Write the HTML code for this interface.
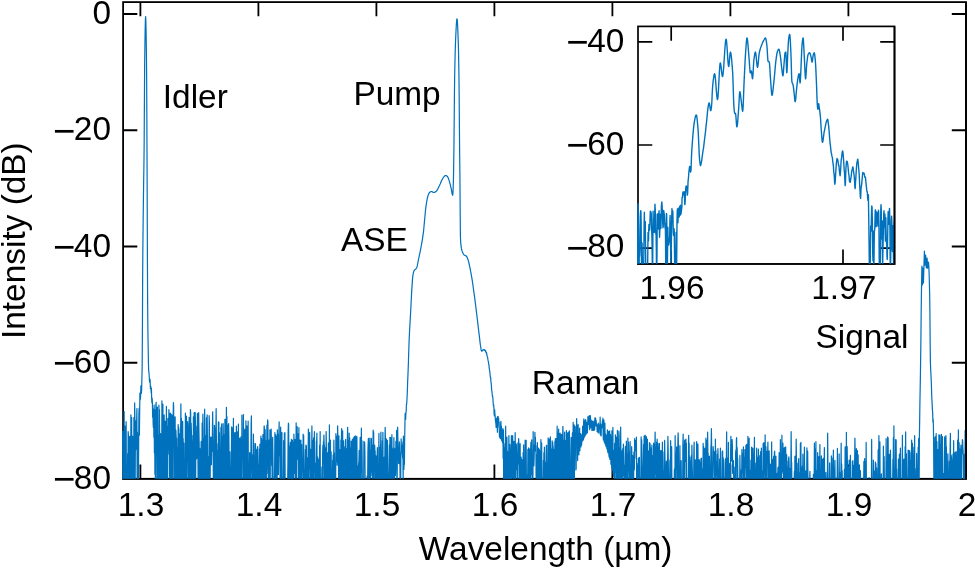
<!DOCTYPE html>
<html lang="en"><head><meta charset="utf-8"><title>Spectrum</title>
<style>html,body{margin:0;padding:0;background:#fff}svg{display:block}</style>
</head><body>
<svg width="975" height="569" viewBox="0 0 975 569">
<defs>
<clipPath id="cm"><rect x="121.80" y="2.1" width="844.20" height="476.85"/></clipPath>
<clipPath id="ci"><rect x="637.0" y="26.4" width="257.5" height="237.49999999999997"/></clipPath>
</defs>
<rect width="975" height="569" fill="#fff"/>
<g stroke="#000" stroke-width="1.8" fill="none"><path d="M140.4 478.8v-14.2M140.4 2.1v14.2"/><path d="M258.4 478.8v-14.2M258.4 2.1v14.2"/><path d="M376.4 478.8v-14.2M376.4 2.1v14.2"/><path d="M494.4 478.8v-14.2M494.4 2.1v14.2"/><path d="M612.4 478.8v-14.2M612.4 2.1v14.2"/><path d="M730.4 478.8v-14.2M730.4 2.1v14.2"/><path d="M848.4 478.8v-14.2M848.4 2.1v14.2"/><path d="M123.1 14.00h14.2M966.0 14.00h-14.2"/><path d="M123.1 130.25h14.2M966.0 130.25h-14.2"/><path d="M123.1 246.50h14.2M966.0 246.50h-14.2"/><path d="M123.1 362.75h14.2M966.0 362.75h-14.2"/><rect x="123.1" y="2.1" width="842.9" height="476.7"/></g>
<g clip-path="url(#cm)"><path d="M122.40 441.3L122.65 431.2L122.90 484.8L123.15 484.8L123.40 477.1L123.65 484.8L123.90 438.9L124.15 411.7L124.40 484.6L124.65 484.8L124.90 426.2L125.15 429.4L125.40 437.1L125.65 484.8L125.90 442.4L126.15 421.7L126.40 484.8L126.65 484.8L126.90 484.8L127.15 484.8L127.40 484.8L127.65 453.5L127.90 484.8L128.15 431.5L128.40 435.0L128.65 450.2L128.90 484.8L129.15 484.8L129.40 442.8L129.65 436.3L129.90 484.8L130.15 480.8L130.40 484.8L130.65 484.8L130.90 414.8L131.15 484.8L131.40 441.8L131.65 417.5L131.90 484.8L132.15 445.5L132.40 436.0L132.65 437.7L132.90 484.8L133.15 437.1L133.40 484.8L133.65 484.8L133.90 417.6L134.15 435.4L134.40 484.8L134.65 402.9L134.90 419.2L135.15 484.8L135.40 436.8L135.65 422.7L135.90 449.2L136.15 420.5L136.40 442.6L136.65 420.7L136.90 408.6L137.15 484.8L137.40 432.1L137.65 476.7L137.90 434.5L138.15 484.8L138.40 484.8L138.65 446.1L138.90 414.0L139.15 408.1L139.40 435.0L139.65 412.6L139.90 393.0L140.15 399.7L140.40 398.9L140.65 394.5L140.90 385.8L141.15 388.1L141.40 393.1L141.65 388.8L141.90 378.6L142.15 365.7L142.40 333.3L142.65 275.5L142.90 244.3L143.15 221.0L143.40 200.0L143.65 182.1L143.90 166.4L144.15 144.4L144.40 103.4L144.65 64.6L144.90 45.4L145.15 29.7L145.40 19.4L145.65 16.7L145.90 22.4L146.15 34.8L146.40 52.1L146.65 78.6L146.90 128.2L147.15 187.2L147.40 256.2L147.65 306.1L147.90 331.4L148.15 346.5L148.40 362.0L148.65 369.7L148.90 372.4L149.15 374.8L149.40 380.0L149.65 382.1L149.90 379.0L150.15 380.9L150.40 388.5L150.65 386.2L150.90 386.7L151.15 392.8L151.40 388.3L151.65 398.0L151.90 402.6L152.15 398.2L152.40 402.8L152.65 417.2L152.90 411.0L153.15 424.2L153.40 427.8L153.65 408.8L153.90 437.3L154.15 405.2L154.40 452.9L154.65 409.5L154.90 474.2L155.15 411.1L155.40 484.8L155.65 484.8L155.90 404.8L156.15 402.4L156.40 436.2L156.65 448.7L156.90 441.2L157.15 484.8L157.40 407.1L157.65 484.8L157.90 435.7L158.15 484.8L158.40 484.8L158.65 484.8L158.90 405.1L159.15 441.1L159.40 409.5L159.65 433.2L159.90 484.8L160.15 453.7L160.40 484.8L160.65 433.6L160.90 458.8L161.15 451.6L161.40 484.8L161.65 484.8L161.90 400.9L162.15 484.8L162.40 484.8L162.65 423.3L162.90 404.2L163.15 484.8L163.40 445.6L163.65 484.8L163.90 484.8L164.15 414.9L164.40 436.2L164.65 432.4L164.90 484.8L165.15 421.2L165.40 484.8L165.65 442.5L165.90 484.8L166.15 484.8L166.40 406.4L166.65 483.1L166.90 426.1L167.15 437.7L167.40 469.9L167.65 483.7L167.90 418.4L168.15 454.3L168.40 444.0L168.65 435.9L168.90 409.5L169.15 417.9L169.40 424.6L169.65 484.8L169.90 484.8L170.15 413.4L170.40 413.2L170.65 444.3L170.90 484.8L171.15 416.6L171.40 415.8L171.65 414.4L171.90 473.9L172.15 484.8L172.40 484.8L172.65 415.7L172.90 423.1L173.15 415.6L173.40 402.6L173.65 407.1L173.90 484.8L174.15 484.8L174.40 417.0L174.65 484.8L174.90 439.4L175.15 416.9L175.40 484.8L175.65 484.8L175.90 430.2L176.15 437.5L176.40 452.7L176.65 438.0L176.90 484.8L177.15 484.8L177.40 448.0L177.65 484.8L177.90 484.8L178.15 424.6L178.40 442.9L178.65 427.2L178.90 484.8L179.15 484.8L179.40 484.8L179.65 484.8L179.90 433.6L180.15 484.8L180.40 429.1L180.65 429.6L180.90 403.8L181.15 484.8L181.40 418.3L181.65 445.4L181.90 442.0L182.15 484.8L182.40 478.3L182.65 421.3L182.90 445.5L183.15 438.6L183.40 458.6L183.65 484.8L183.90 443.0L184.15 484.8L184.40 484.8L184.65 484.8L184.90 484.8L185.15 484.8L185.40 413.0L185.65 440.7L185.90 484.8L186.15 484.8L186.40 416.1L186.65 437.0L186.90 484.8L187.15 445.4L187.40 441.6L187.65 421.7L187.90 426.8L188.15 435.6L188.40 484.8L188.65 484.8L188.90 484.8L189.15 417.4L189.40 484.8L189.65 450.3L189.90 444.1L190.15 484.8L190.40 409.7L190.65 412.8L190.90 481.4L191.15 423.1L191.40 431.7L191.65 484.8L191.90 435.4L192.15 446.9L192.40 441.0L192.65 484.8L192.90 484.8L193.15 484.8L193.40 416.9L193.65 433.3L193.90 444.8L194.15 412.6L194.40 484.8L194.65 471.1L194.90 484.8L195.15 412.4L195.40 420.7L195.65 484.8L195.90 426.0L196.15 440.7L196.40 437.3L196.65 458.8L196.90 455.6L197.15 443.0L197.40 413.4L197.65 428.7L197.90 447.9L198.15 484.8L198.40 484.8L198.65 412.6L198.90 430.0L199.15 442.8L199.40 467.3L199.65 484.8L199.90 448.6L200.15 484.8L200.40 472.5L200.65 457.8L200.90 457.4L201.15 441.6L201.40 484.8L201.65 458.5L201.90 484.8L202.15 423.1L202.40 484.8L202.65 429.1L202.90 414.2L203.15 464.8L203.40 484.8L203.65 439.3L203.90 446.4L204.15 484.8L204.40 432.0L204.65 409.2L204.90 460.6L205.15 456.9L205.40 484.8L205.65 435.8L205.90 484.8L206.15 484.8L206.40 417.8L206.65 484.8L206.90 420.7L207.15 414.8L207.40 437.7L207.65 484.8L207.90 484.8L208.15 456.9L208.40 484.8L208.65 484.8L208.90 484.8L209.15 415.7L209.40 423.0L209.65 484.8L209.90 484.8L210.15 484.8L210.40 437.2L210.65 457.8L210.90 439.6L211.15 437.2L211.40 464.7L211.65 449.1L211.90 439.9L212.15 451.3L212.40 432.1L212.65 411.8L212.90 430.2L213.15 445.3L213.40 484.8L213.65 484.8L213.90 484.8L214.15 484.8L214.40 425.4L214.65 428.1L214.90 455.1L215.15 484.8L215.40 472.2L215.65 484.8L215.90 429.7L216.15 408.6L216.40 440.2L216.65 484.8L216.90 484.8L217.15 450.6L217.40 456.9L217.65 484.8L217.90 443.7L218.15 484.8L218.40 421.8L218.65 422.5L218.90 422.2L219.15 484.8L219.40 432.7L219.65 454.7L219.90 474.8L220.15 469.5L220.40 484.8L220.65 484.8L220.90 427.3L221.15 458.3L221.40 440.8L221.65 423.8L221.90 484.8L222.15 484.8L222.40 442.2L222.65 436.0L222.90 484.8L223.15 423.6L223.40 441.2L223.65 484.8L223.90 484.8L224.15 484.8L224.40 434.5L224.65 484.8L224.90 419.3L225.15 431.6L225.40 419.4L225.65 474.8L225.90 484.8L226.15 484.8L226.40 407.4L226.65 457.9L226.90 416.6L227.15 484.8L227.40 443.2L227.65 484.8L227.90 475.0L228.15 424.9L228.40 484.8L228.65 423.6L228.90 438.2L229.15 484.8L229.40 484.8L229.65 484.8L229.90 451.8L230.15 484.8L230.40 484.8L230.65 467.6L230.90 484.8L231.15 484.8L231.40 451.9L231.65 426.9L231.90 484.8L232.15 449.7L232.40 484.8L232.65 484.8L232.90 427.6L233.15 484.8L233.40 418.4L233.65 484.8L233.90 437.5L234.15 484.8L234.40 484.8L234.65 432.8L234.90 457.6L235.15 432.6L235.40 452.2L235.65 484.8L235.90 454.9L236.15 448.1L236.40 426.2L236.65 484.8L236.90 452.0L237.15 484.8L237.40 431.8L237.65 484.8L237.90 484.8L238.15 453.0L238.40 424.1L238.65 484.8L238.90 484.8L239.15 484.8L239.40 484.8L239.65 438.2L239.90 484.8L240.15 484.8L240.40 484.8L240.65 484.8L240.90 436.9L241.15 484.8L241.40 484.8L241.65 484.8L241.90 415.1L242.15 484.8L242.40 442.2L242.65 452.1L242.90 444.8L243.15 448.8L243.40 414.7L243.65 484.8L243.90 484.8L244.15 484.8L244.40 484.8L244.65 430.5L244.90 429.2L245.15 484.8L245.40 484.8L245.65 473.6L245.90 420.8L246.15 484.8L246.40 435.2L246.65 484.8L246.90 425.8L247.15 484.8L247.40 467.5L247.65 484.8L247.90 484.8L248.15 421.0L248.40 484.8L248.65 479.2L248.90 484.8L249.15 484.8L249.40 478.3L249.65 452.7L249.90 455.2L250.15 455.7L250.40 484.8L250.65 454.4L250.90 453.2L251.15 422.5L251.40 415.9L251.65 458.1L251.90 484.8L252.15 454.5L252.40 484.8L252.65 484.8L252.90 484.8L253.15 484.8L253.40 434.1L253.65 456.6L253.90 443.0L254.15 461.0L254.40 484.8L254.65 484.8L254.90 464.6L255.15 484.8L255.40 443.6L255.65 452.2L255.90 484.8L256.15 449.4L256.40 484.8L256.65 484.8L256.90 469.1L257.15 484.8L257.40 448.6L257.65 446.5L257.90 459.9L258.15 483.3L258.40 476.9L258.65 484.8L258.90 467.4L259.15 484.8L259.40 448.8L259.65 484.8L259.90 444.1L260.15 447.1L260.40 459.3L260.65 484.8L260.90 436.1L261.15 484.8L261.40 438.3L261.65 444.1L261.90 443.0L262.15 440.3L262.40 484.8L262.65 466.7L262.90 434.6L263.15 439.2L263.40 445.4L263.65 484.8L263.90 436.9L264.15 425.9L264.40 428.3L264.65 444.6L264.90 484.8L265.15 429.5L265.40 459.3L265.65 484.8L265.90 440.8L266.15 484.8L266.40 484.8L266.65 484.8L266.90 425.1L267.15 473.5L267.40 443.7L267.65 419.8L267.90 421.5L268.15 456.5L268.40 463.5L268.65 484.8L268.90 484.8L269.15 440.0L269.40 440.7L269.65 484.8L269.90 429.8L270.15 484.8L270.40 454.1L270.65 434.2L270.90 436.9L271.15 429.0L271.40 440.9L271.65 465.6L271.90 441.7L272.15 484.8L272.40 484.8L272.65 437.3L272.90 453.5L273.15 484.8L273.40 484.8L273.65 484.8L273.90 484.8L274.15 484.8L274.40 484.8L274.65 465.1L274.90 432.5L275.15 484.8L275.40 484.8L275.65 451.7L275.90 434.9L276.15 484.8L276.40 455.2L276.65 438.6L276.90 436.3L277.15 484.8L277.40 429.9L277.65 443.3L277.90 443.5L278.15 434.9L278.40 474.5L278.65 452.1L278.90 433.4L279.15 421.9L279.40 455.7L279.65 452.2L279.90 445.9L280.15 484.8L280.40 451.6L280.65 427.1L280.90 484.8L281.15 456.2L281.40 456.5L281.65 484.8L281.90 432.3L282.15 484.8L282.40 484.8L282.65 484.8L282.90 477.6L283.15 484.8L283.40 484.8L283.65 440.6L283.90 484.8L284.15 484.8L284.40 433.2L284.65 457.1L284.90 432.5L285.15 484.8L285.40 484.8L285.65 484.8L285.90 484.8L286.15 484.8L286.40 484.8L286.65 484.8L286.90 484.8L287.15 484.8L287.40 484.8L287.65 484.8L287.90 463.0L288.15 432.1L288.40 423.0L288.65 424.9L288.90 484.8L289.15 446.1L289.40 484.8L289.65 453.4L289.90 484.8L290.15 448.1L290.40 442.3L290.65 484.8L290.90 484.8L291.15 484.8L291.40 439.4L291.65 475.8L291.90 484.8L292.15 446.4L292.40 440.1L292.65 484.8L292.90 441.9L293.15 483.2L293.40 459.3L293.65 484.8L293.90 434.2L294.15 451.1L294.40 473.3L294.65 459.0L294.90 455.5L295.15 439.4L295.40 484.8L295.65 484.8L295.90 484.8L296.15 422.9L296.40 484.8L296.65 452.9L296.90 439.5L297.15 426.5L297.40 455.7L297.65 459.1L297.90 433.9L298.15 442.5L298.40 484.8L298.65 463.3L298.90 427.7L299.15 484.8L299.40 441.6L299.65 440.0L299.90 484.8L300.15 484.8L300.40 454.8L300.65 443.5L300.90 440.1L301.15 484.8L301.40 484.8L301.65 444.5L301.90 471.9L302.15 458.1L302.40 466.4L302.65 458.4L302.90 484.8L303.15 434.2L303.40 446.3L303.65 435.3L303.90 484.8L304.15 484.8L304.40 484.8L304.65 484.8L304.90 484.8L305.15 462.9L305.40 449.4L305.65 484.8L305.90 445.0L306.15 484.8L306.40 445.7L306.65 484.8L306.90 457.7L307.15 484.8L307.40 464.0L307.65 466.5L307.90 484.8L308.15 451.5L308.40 429.0L308.65 484.8L308.90 484.8L309.15 440.2L309.40 468.7L309.65 432.4L309.90 452.0L310.15 452.3L310.40 484.8L310.65 449.3L310.90 460.8L311.15 452.6L311.40 484.8L311.65 459.2L311.90 425.9L312.15 452.3L312.40 484.8L312.65 442.6L312.90 440.3L313.15 484.8L313.40 484.8L313.65 437.9L313.90 446.4L314.15 448.8L314.40 431.7L314.65 468.5L314.90 484.8L315.15 463.2L315.40 484.8L315.65 484.8L315.90 484.8L316.15 463.5L316.40 441.0L316.65 441.7L316.90 433.2L317.15 484.8L317.40 484.8L317.65 457.2L317.90 467.9L318.15 484.8L318.40 479.3L318.65 484.8L318.90 459.0L319.15 484.8L319.40 467.3L319.65 445.0L319.90 484.8L320.15 431.7L320.40 484.8L320.65 484.8L320.90 484.8L321.15 478.9L321.40 484.8L321.65 484.8L321.90 467.1L322.15 484.8L322.40 484.8L322.65 453.3L322.90 445.3L323.15 484.8L323.40 441.6L323.65 450.5L323.90 435.0L324.15 444.4L324.40 444.9L324.65 484.8L324.90 484.8L325.15 454.4L325.40 484.8L325.65 447.7L325.90 484.8L326.15 431.6L326.40 449.4L326.65 484.8L326.90 484.8L327.15 456.9L327.40 452.9L327.65 469.4L327.90 484.8L328.15 466.7L328.40 442.8L328.65 484.8L328.90 451.9L329.15 484.8L329.40 424.9L329.65 484.8L329.90 461.4L330.15 474.3L330.40 440.0L330.65 484.8L330.90 484.8L331.15 451.8L331.40 481.3L331.65 480.0L331.90 484.8L332.15 484.8L332.40 484.8L332.65 460.0L332.90 484.8L333.15 454.8L333.40 484.8L333.65 461.3L333.90 440.0L334.15 484.8L334.40 452.7L334.65 476.2L334.90 484.8L335.15 464.5L335.40 484.8L335.65 484.8L335.90 433.5L336.15 447.7L336.40 436.2L336.65 461.7L336.90 438.5L337.15 465.2L337.40 454.3L337.65 425.8L337.90 440.4L338.15 462.3L338.40 452.9L338.65 484.8L338.90 435.8L339.15 461.9L339.40 484.8L339.65 456.8L339.90 484.8L340.15 449.5L340.40 484.8L340.65 484.8L340.90 440.0L341.15 484.8L341.40 439.4L341.65 428.6L341.90 440.5L342.15 447.3L342.40 484.8L342.65 430.9L342.90 484.8L343.15 453.4L343.40 444.4L343.65 440.8L343.90 484.8L344.15 446.5L344.40 456.8L344.65 484.8L344.90 453.8L345.15 484.8L345.40 451.8L345.65 439.4L345.90 484.8L346.15 456.0L346.40 484.8L346.65 484.8L346.90 448.4L347.15 484.8L347.40 436.8L347.65 427.3L347.90 484.8L348.15 484.8L348.40 441.0L348.65 484.8L348.90 449.7L349.15 433.1L349.40 484.8L349.65 437.6L349.90 484.8L350.15 484.8L350.40 448.4L350.65 484.8L350.90 484.8L351.15 441.1L351.40 450.8L351.65 444.1L351.90 484.8L352.15 484.8L352.40 439.3L352.65 441.6L352.90 484.8L353.15 484.8L353.40 437.9L353.65 461.0L353.90 484.8L354.15 455.0L354.40 436.4L354.65 484.8L354.90 484.8L355.15 466.0L355.40 484.8L355.65 435.8L355.90 453.2L356.15 484.8L356.40 458.6L356.65 439.1L356.90 436.5L357.15 484.8L357.40 484.8L357.65 484.8L357.90 466.2L358.15 484.8L358.40 484.8L358.65 463.0L358.90 461.8L359.15 450.4L359.40 451.0L359.65 484.8L359.90 460.2L360.15 437.3L360.40 448.1L360.65 484.8L360.90 484.8L361.15 443.0L361.40 428.0L361.65 472.3L361.90 440.5L362.15 457.7L362.40 484.8L362.65 484.8L362.90 484.8L363.15 478.6L363.40 484.8L363.65 484.8L363.90 441.3L364.15 452.8L364.40 444.8L364.65 442.3L364.90 453.0L365.15 484.8L365.40 484.8L365.65 484.8L365.90 482.0L366.15 484.8L366.40 484.8L366.65 484.8L366.90 484.8L367.15 475.8L367.40 484.8L367.65 484.8L367.90 452.1L368.15 444.3L368.40 438.4L368.65 454.2L368.90 484.8L369.15 451.3L369.40 453.3L369.65 443.4L369.90 438.0L370.15 484.8L370.40 456.2L370.65 484.8L370.90 450.3L371.15 475.2L371.40 438.4L371.65 459.6L371.90 444.8L372.15 472.2L372.40 446.2L372.65 484.8L372.90 460.1L373.15 430.0L373.40 446.0L373.65 431.8L373.90 484.8L374.15 466.6L374.40 459.2L374.65 445.2L374.90 450.7L375.15 450.9L375.40 484.8L375.65 484.8L375.90 455.8L376.15 484.8L376.40 484.8L376.65 468.6L376.90 468.2L377.15 455.7L377.40 447.5L377.65 484.8L377.90 484.8L378.15 483.4L378.40 484.8L378.65 484.8L378.90 433.4L379.15 482.9L379.40 484.8L379.65 484.8L379.90 447.1L380.15 484.8L380.40 452.8L380.65 443.6L380.90 432.1L381.15 484.8L381.40 484.8L381.65 478.4L381.90 484.8L382.15 456.3L382.40 440.6L382.65 452.5L382.90 432.3L383.15 484.8L383.40 457.4L383.65 484.8L383.90 484.8L384.15 484.8L384.40 456.8L384.65 484.8L384.90 449.9L385.15 427.4L385.40 437.5L385.65 484.8L385.90 474.0L386.15 459.8L386.40 438.9L386.65 471.9L386.90 467.5L387.15 484.8L387.40 440.4L387.65 459.1L387.90 484.8L388.15 484.8L388.40 484.8L388.65 484.8L388.90 484.8L389.15 465.7L389.40 444.9L389.65 484.8L389.90 437.3L390.15 484.8L390.40 484.8L390.65 437.5L390.90 469.3L391.15 477.4L391.40 484.8L391.65 484.8L391.90 434.7L392.15 484.8L392.40 484.8L392.65 457.0L392.90 456.1L393.15 449.3L393.40 447.8L393.65 484.8L393.90 437.7L394.15 484.8L394.40 484.8L394.65 468.3L394.90 449.9L395.15 448.5L395.40 475.6L395.65 466.1L395.90 441.3L396.15 446.7L396.40 467.3L396.65 430.3L396.90 484.8L397.15 484.8L397.40 447.4L397.65 427.2L397.90 441.4L398.15 448.6L398.40 455.8L398.65 463.4L398.90 455.9L399.15 463.6L399.40 441.9L399.65 459.9L399.90 460.9L400.15 484.8L400.40 452.9L400.65 484.8L400.90 455.4L401.15 438.8L401.40 446.6L401.65 444.8L401.90 446.8L402.15 451.2L402.40 454.4L402.65 457.9L402.90 441.8L403.15 484.5L403.40 436.0L403.65 451.6L403.90 469.5L404.15 461.7L404.40 464.2L404.65 439.7L404.90 425.1L405.15 413.4L405.40 419.3L405.65 419.3L405.90 412.8L406.15 412.1L406.40 404.4L406.65 404.5L406.90 400.3L407.15 395.5L407.40 389.7L407.65 381.3L407.90 376.4L408.15 369.5L408.40 362.9L408.65 354.1L408.90 346.8L409.15 340.1L409.40 334.4L409.65 329.5L409.90 325.2L410.15 320.9L410.40 316.3L410.65 311.7L410.90 306.7L411.15 301.7L411.40 296.8L411.65 292.4L411.90 288.4L412.15 284.4L412.40 280.6L412.65 277.5L412.90 275.4L413.15 274.0L413.40 272.9L413.65 271.9L413.90 271.1L414.15 270.6L414.40 270.2L414.65 269.9L414.90 269.6L415.15 269.4L415.40 269.2L415.65 269.1L415.90 268.9L416.15 268.6L416.40 268.3L416.65 267.9L416.90 267.2L417.15 266.3L417.40 265.2L417.65 263.9L417.90 262.5L418.15 261.2L418.40 259.9L418.65 258.7L418.90 257.5L419.15 256.4L419.40 255.2L419.65 254.0L419.90 252.8L420.15 251.6L420.40 250.4L420.65 249.1L420.90 247.8L421.15 246.5L421.40 245.2L421.65 243.8L421.90 242.3L422.15 240.8L422.40 239.3L422.65 237.7L422.90 236.1L423.15 234.2L423.40 232.3L423.65 230.1L423.90 227.5L424.15 224.8L424.40 222.1L424.65 219.5L424.90 216.8L425.15 214.0L425.40 211.4L425.65 209.0L425.90 207.1L426.15 205.2L426.40 203.5L426.65 201.9L426.90 200.4L427.15 199.1L427.40 198.0L427.65 197.0L427.90 196.1L428.15 195.3L428.40 194.6L428.65 194.0L428.90 193.4L429.15 192.9L429.40 192.6L429.65 192.4L429.90 192.2L430.15 192.0L430.40 191.8L430.65 191.7L430.90 191.6L431.15 191.5L431.40 191.5L431.65 191.5L431.90 191.6L432.15 191.7L432.40 191.9L432.65 192.0L432.90 192.2L433.15 192.3L433.40 192.4L433.65 192.5L433.90 192.5L434.15 192.5L434.40 192.4L434.65 192.3L434.90 192.2L435.15 192.0L435.40 191.9L435.65 191.7L435.90 191.5L436.15 191.3L436.40 191.1L436.65 190.9L436.90 190.5L437.15 190.2L437.40 189.7L437.65 189.3L437.90 188.8L438.15 188.3L438.40 187.8L438.65 187.2L438.90 186.7L439.15 186.2L439.40 185.7L439.65 185.2L439.90 184.6L440.15 184.1L440.40 183.5L440.65 182.8L440.90 182.2L441.15 181.6L441.40 181.0L441.65 180.5L441.90 180.0L442.15 179.5L442.40 179.1L442.65 178.7L442.90 178.3L443.15 177.9L443.40 177.5L443.65 177.1L443.90 176.8L444.15 176.4L444.40 176.2L444.65 175.9L444.90 175.7L445.15 175.6L445.40 175.5L445.65 175.5L445.90 175.6L446.15 175.6L446.40 175.8L446.65 175.9L446.90 176.1L447.15 176.3L447.40 176.5L447.65 176.8L447.90 177.2L448.15 177.8L448.40 178.4L448.65 179.2L448.90 179.9L449.15 180.7L449.40 181.4L449.65 182.3L449.90 183.2L450.15 184.2L450.40 185.2L450.65 186.3L450.90 187.4L451.15 188.4L451.40 189.7L451.65 191.1L451.90 192.6L452.15 193.9L452.40 194.8L452.65 195.3L452.90 193.7L453.15 188.3L453.40 180.8L453.65 168.1L453.90 150.0L454.15 125.2L454.40 96.8L454.65 77.1L454.90 64.2L455.15 53.6L455.40 45.2L455.65 38.9L455.90 33.3L456.15 28.1L456.40 23.7L456.65 20.5L456.90 18.8L457.15 19.1L457.40 21.7L457.65 26.3L457.90 32.1L458.15 38.6L458.40 46.6L458.65 58.2L458.90 73.1L459.15 94.3L459.40 126.5L459.65 154.5L459.90 175.0L460.15 208.6L460.40 236.0L460.65 241.7L460.90 244.6L461.15 246.6L461.40 248.2L461.65 249.5L461.90 250.4L462.15 251.2L462.40 251.9L462.65 252.6L462.90 253.1L463.15 253.6L463.40 254.0L463.65 254.4L463.90 254.7L464.15 254.9L464.40 255.1L464.65 255.2L464.90 255.4L465.15 255.5L465.40 255.6L465.65 255.7L465.90 255.8L466.15 256.0L466.40 256.2L466.65 256.5L466.90 256.9L467.15 257.4L467.40 258.0L467.65 258.6L467.90 259.3L468.15 260.1L468.40 260.9L468.65 261.8L468.90 262.9L469.15 264.0L469.40 265.2L469.65 266.4L469.90 267.7L470.15 269.0L470.40 270.1L470.65 271.5L470.90 272.7L471.15 274.1L471.40 275.5L471.65 276.9L471.90 278.3L472.15 279.9L472.40 281.5L472.65 283.2L472.90 285.0L473.15 286.8L473.40 288.5L473.65 290.4L473.90 292.2L474.15 294.0L474.40 295.8L474.65 297.7L474.90 299.7L475.15 301.6L475.40 303.6L475.65 305.5L475.90 307.6L476.15 309.6L476.40 311.6L476.65 313.7L476.90 315.7L477.15 317.9L477.40 320.0L477.65 321.9L477.90 324.1L478.15 326.2L478.40 328.4L478.65 330.5L478.90 332.6L479.15 334.4L479.40 336.7L479.65 338.5L479.90 341.1L480.15 343.3L480.40 345.2L480.65 346.5L480.90 348.1L481.15 349.9L481.40 350.8L481.65 351.2L481.90 351.1L482.15 350.9L482.40 350.3L482.65 350.4L482.90 349.8L483.15 350.1L483.40 349.9L483.65 349.7L483.90 349.8L484.15 349.4L484.40 350.2L484.65 349.8L484.90 350.7L485.15 350.2L485.40 351.4L485.65 350.9L485.90 352.2L486.15 352.8L486.40 352.2L486.65 353.3L486.90 355.0L487.15 356.1L487.40 357.0L487.65 357.5L487.90 359.4L488.15 360.9L488.40 361.5L488.65 364.1L488.90 364.4L489.15 367.6L489.40 369.5L489.65 370.9L489.90 372.2L490.15 375.5L490.40 377.6L490.65 377.4L490.90 381.7L491.15 382.7L491.40 385.8L491.65 390.2L491.90 391.2L492.15 393.8L492.40 396.1L492.65 396.1L492.90 398.2L493.15 402.8L493.40 405.7L493.65 404.8L493.90 407.6L494.15 413.8L494.40 415.8L494.65 409.8L494.90 414.1L495.15 416.1L495.40 420.3L495.65 421.9L495.90 423.6L496.15 427.5L496.40 422.7L496.65 418.2L496.90 424.2L497.15 423.7L497.40 432.2L497.65 416.4L497.90 421.6L498.15 416.5L498.40 420.9L498.65 418.2L498.90 427.0L499.15 422.2L499.40 436.6L499.65 434.9L499.90 437.8L500.15 438.3L500.40 438.8L500.65 423.7L500.90 421.3L501.15 432.8L501.40 426.1L501.65 440.6L501.90 434.0L502.15 434.0L502.40 442.7L502.65 429.9L502.90 428.7L503.15 458.2L503.40 429.8L503.65 484.8L503.90 443.6L504.15 460.9L504.40 455.4L504.65 484.8L504.90 447.6L505.15 484.8L505.40 443.5L505.65 426.2L505.90 484.8L506.15 484.8L506.40 448.2L506.65 455.9L506.90 437.2L507.15 484.8L507.40 451.2L507.65 484.8L507.90 484.8L508.15 484.8L508.40 452.0L508.65 463.0L508.90 435.6L509.15 478.4L509.40 484.8L509.65 484.8L509.90 444.4L510.15 455.8L510.40 484.8L510.65 454.0L510.90 484.8L511.15 463.1L511.40 435.7L511.65 484.8L511.90 484.8L512.15 436.6L512.40 452.0L512.65 435.7L512.90 448.9L513.15 477.4L513.40 455.1L513.65 484.8L513.90 441.4L514.15 453.9L514.40 453.1L514.65 456.0L514.90 484.8L515.15 432.7L515.40 453.8L515.65 484.8L515.90 463.9L516.15 443.8L516.40 444.8L516.65 456.5L516.90 469.4L517.15 453.6L517.40 484.8L517.65 484.8L517.90 442.9L518.15 464.0L518.40 448.2L518.65 438.7L518.90 444.7L519.15 453.6L519.40 484.8L519.65 444.5L519.90 461.0L520.15 443.7L520.40 484.8L520.65 476.3L520.90 484.8L521.15 457.0L521.40 484.8L521.65 484.8L521.90 459.5L522.15 463.0L522.40 484.8L522.65 461.0L522.90 484.8L523.15 452.3L523.40 484.8L523.65 444.9L523.90 484.8L524.15 484.8L524.40 484.8L524.65 470.3L524.90 464.9L525.15 440.1L525.40 484.8L525.65 459.8L525.90 450.5L526.15 440.4L526.40 484.8L526.65 475.2L526.90 483.6L527.15 484.8L527.40 476.3L527.65 484.8L527.90 449.3L528.15 477.7L528.40 484.8L528.65 447.9L528.90 471.5L529.15 451.9L529.40 484.8L529.65 449.0L529.90 468.5L530.15 455.2L530.40 484.8L530.65 449.8L530.90 442.4L531.15 474.7L531.40 458.0L531.65 439.8L531.90 464.5L532.15 484.8L532.40 484.3L532.65 484.8L532.90 484.8L533.15 431.5L533.40 462.1L533.65 465.1L533.90 466.0L534.15 457.1L534.40 445.0L534.65 451.1L534.90 432.3L535.15 450.8L535.40 437.1L535.65 449.8L535.90 445.6L536.15 484.8L536.40 484.8L536.65 455.3L536.90 484.8L537.15 484.8L537.40 442.5L537.65 484.8L537.90 462.9L538.15 458.8L538.40 484.8L538.65 448.1L538.90 484.8L539.15 484.8L539.40 449.7L539.65 451.8L539.90 484.8L540.15 466.3L540.40 474.7L540.65 484.8L540.90 439.5L541.15 484.8L541.40 484.8L541.65 442.9L541.90 484.8L542.15 484.8L542.40 484.8L542.65 484.8L542.90 484.8L543.15 484.8L543.40 460.4L543.65 484.8L543.90 452.6L544.15 484.8L544.40 447.0L544.65 484.8L544.90 468.9L545.15 462.3L545.40 484.8L545.65 484.8L545.90 481.9L546.15 454.0L546.40 445.3L546.65 445.5L546.90 480.9L547.15 484.8L547.40 477.3L547.65 484.8L547.90 484.8L548.15 437.8L548.40 462.7L548.65 484.8L548.90 447.5L549.15 439.3L549.40 484.8L549.65 438.9L549.90 450.1L550.15 484.8L550.40 436.8L550.65 484.8L550.90 484.8L551.15 449.1L551.40 484.8L551.65 475.6L551.90 456.9L552.15 440.8L552.40 484.8L552.65 442.1L552.90 445.8L553.15 446.7L553.40 484.8L553.65 484.8L553.90 484.8L554.15 468.5L554.40 449.0L554.65 484.8L554.90 441.0L555.15 484.8L555.40 438.5L555.65 484.8L555.90 484.8L556.15 484.8L556.40 438.7L556.65 484.8L556.90 462.7L557.15 426.1L557.40 469.4L557.65 465.0L557.90 484.8L558.15 477.5L558.40 433.8L558.65 429.1L558.90 484.8L559.15 484.8L559.40 433.5L559.65 484.8L559.90 436.7L560.15 433.2L560.40 469.3L560.65 450.4L560.90 484.8L561.15 484.8L561.40 434.3L561.65 461.8L561.90 484.8L562.15 484.8L562.40 460.5L562.65 435.6L562.90 426.3L563.15 439.0L563.40 484.8L563.65 440.2L563.90 484.8L564.15 455.5L564.40 484.8L564.65 432.2L564.90 484.8L565.15 484.8L565.40 452.2L565.65 484.8L565.90 440.3L566.15 484.8L566.40 430.5L566.65 484.8L566.90 484.8L567.15 438.6L567.40 432.8L567.65 484.8L567.90 484.8L568.15 484.8L568.40 467.9L568.65 432.1L568.90 472.5L569.15 484.8L569.40 430.9L569.65 484.8L569.90 484.8L570.15 484.8L570.40 484.8L570.65 474.1L570.90 448.9L571.15 437.3L571.40 484.8L571.65 484.8L571.90 472.2L572.15 466.3L572.40 432.8L572.65 442.1L572.90 484.8L573.15 422.4L573.40 484.8L573.65 436.6L573.90 436.9L574.15 424.9L574.40 479.2L574.65 427.8L574.90 450.4L575.15 426.4L575.40 449.9L575.65 442.4L575.90 470.0L576.15 468.5L576.40 435.5L576.65 418.6L576.90 432.4L577.15 447.1L577.40 428.7L577.65 460.6L577.90 425.3L578.15 424.6L578.40 440.8L578.65 441.0L578.90 454.8L579.15 433.2L579.40 444.0L579.65 428.0L579.90 450.7L580.15 435.9L580.40 435.1L580.65 433.5L580.90 447.0L581.15 442.5L581.40 445.3L581.65 444.5L581.90 434.7L582.15 441.4L582.40 438.7L582.65 426.1L582.90 435.6L583.15 440.2L583.40 439.6L583.65 421.5L583.90 418.9L584.15 437.8L584.40 433.8L584.65 420.9L584.90 424.2L585.15 435.9L585.40 425.4L585.65 419.5L585.90 420.9L586.15 434.2L586.40 422.2L586.65 422.6L586.90 423.2L587.15 432.9L587.40 432.6L587.65 426.5L587.90 416.7L588.15 424.2L588.40 419.5L588.65 424.0L588.90 424.6L589.15 415.7L589.40 424.8L589.65 429.7L589.90 426.6L590.15 424.7L590.40 415.5L590.65 422.5L590.90 419.7L591.15 427.9L591.40 422.0L591.65 420.8L591.90 430.5L592.15 426.5L592.40 421.1L592.65 422.2L592.90 428.0L593.15 430.5L593.40 424.5L593.65 430.5L593.90 421.0L594.15 421.2L594.40 425.3L594.65 429.8L594.90 417.9L595.15 422.4L595.40 419.5L595.65 418.1L595.90 426.0L596.15 420.4L596.40 424.8L596.65 424.1L596.90 424.3L597.15 431.8L597.40 431.9L597.65 432.1L597.90 425.0L598.15 425.7L598.40 423.0L598.65 429.3L598.90 433.2L599.15 425.2L599.40 428.1L599.65 425.9L599.90 428.7L600.15 417.2L600.40 435.0L600.65 423.9L600.90 426.6L601.15 436.0L601.40 425.1L601.65 427.4L601.90 425.6L602.15 425.8L602.40 420.7L602.65 428.1L602.90 418.2L603.15 434.4L603.40 440.0L603.65 436.1L603.90 419.9L604.15 441.7L604.40 430.3L604.65 442.8L604.90 423.2L605.15 444.1L605.40 433.7L605.65 444.1L605.90 446.0L606.15 446.7L606.40 435.2L606.65 438.7L606.90 448.9L607.15 440.3L607.40 429.8L607.65 451.3L607.90 452.1L608.15 453.0L608.40 439.1L608.65 431.4L608.90 455.6L609.15 456.5L609.40 457.5L609.65 430.8L609.90 459.4L610.15 439.2L610.40 434.3L610.65 440.9L610.90 463.5L611.15 464.6L611.40 436.3L611.65 466.8L611.90 430.8L612.15 469.1L612.40 470.2L612.65 452.4L612.90 427.4L613.15 473.9L613.40 453.2L613.65 476.4L613.90 452.2L614.15 450.2L614.40 480.4L614.65 443.3L614.90 472.2L615.15 470.4L615.40 434.8L615.65 457.0L615.90 484.8L616.15 484.8L616.40 437.1L616.65 452.2L616.90 446.6L617.15 484.8L617.40 430.4L617.65 440.2L617.90 474.8L618.15 484.8L618.40 484.8L618.65 484.8L618.90 431.2L619.15 435.0L619.40 484.8L619.65 452.3L619.90 484.8L620.15 447.8L620.40 484.8L620.65 427.0L620.90 450.7L621.15 484.8L621.40 466.7L621.65 451.2L621.90 484.8L622.15 473.9L622.40 484.8L622.65 448.9L622.90 457.0L623.15 476.0L623.40 444.2L623.65 465.7L623.90 464.9L624.15 484.8L624.40 473.7L624.65 484.8L624.90 484.8L625.15 457.2L625.40 446.4L625.65 463.6L625.90 452.8L626.15 484.8L626.40 441.1L626.65 484.8L626.90 453.6L627.15 484.8L627.40 484.8L627.65 484.8L627.90 438.1L628.15 452.9L628.40 442.1L628.65 470.8L628.90 461.0L629.15 484.8L629.40 451.3L629.65 484.8L629.90 445.2L630.15 441.5L630.40 484.8L630.65 484.8L630.90 484.8L631.15 472.7L631.40 484.8L631.65 446.7L631.90 455.2L632.15 484.8L632.40 484.8L632.65 455.6L632.90 484.8L633.15 456.2L633.40 484.8L633.65 476.7L633.90 452.0L634.15 470.2L634.40 467.4L634.65 438.6L634.90 446.2L635.15 446.8L635.40 450.1L635.65 450.7L635.90 440.4L636.15 458.5L636.40 437.1L636.65 484.8L636.90 463.1L637.15 484.8L637.40 465.2L637.65 484.8L637.90 484.8L638.15 474.2L638.40 458.2L638.65 484.8L638.90 484.8L639.15 484.8L639.40 457.3L639.65 484.8L639.90 484.8L640.15 484.8L640.40 484.8L640.65 484.8L640.90 484.8L641.15 436.9L641.40 484.8L641.65 439.5L641.90 449.5L642.15 466.3L642.40 484.8L642.65 484.8L642.90 484.8L643.15 484.8L643.40 464.9L643.65 444.3L643.90 453.2L644.15 435.9L644.40 472.5L644.65 484.8L644.90 484.8L645.15 435.2L645.40 478.6L645.65 484.8L645.90 484.8L646.15 461.7L646.40 436.5L646.65 466.4L646.90 484.8L647.15 484.8L647.40 439.2L647.65 484.8L647.90 484.8L648.15 450.8L648.40 465.6L648.65 457.7L648.90 458.7L649.15 484.8L649.40 442.7L649.65 484.8L649.90 443.1L650.15 445.4L650.40 461.3L650.65 482.1L650.90 464.3L651.15 451.5L651.40 447.9L651.65 484.8L651.90 445.0L652.15 484.8L652.40 455.3L652.65 484.8L652.90 484.8L653.15 484.8L653.40 469.8L653.65 443.2L653.90 448.7L654.15 484.8L654.40 459.0L654.65 484.8L654.90 444.2L655.15 432.1L655.40 473.6L655.65 458.5L655.90 465.7L656.15 484.8L656.40 449.4L656.65 441.9L656.90 484.8L657.15 439.2L657.40 484.8L657.65 455.0L657.90 443.3L658.15 448.5L658.40 484.8L658.65 484.8L658.90 484.8L659.15 461.5L659.40 443.4L659.65 484.8L659.90 484.8L660.15 484.8L660.40 450.7L660.65 452.1L660.90 484.8L661.15 451.8L661.40 484.8L661.65 450.7L661.90 484.8L662.15 484.8L662.40 442.0L662.65 467.2L662.90 484.8L663.15 484.8L663.40 484.8L663.65 471.1L663.90 484.1L664.15 451.9L664.40 484.8L664.65 440.4L664.90 455.6L665.15 467.3L665.40 484.8L665.65 484.8L665.90 484.8L666.15 478.0L666.40 461.1L666.65 484.8L666.90 484.8L667.15 484.8L667.40 484.8L667.65 458.0L667.90 436.4L668.15 450.1L668.40 470.0L668.65 484.8L668.90 484.8L669.15 484.8L669.40 484.8L669.65 484.8L669.90 460.2L670.15 483.4L670.40 459.7L670.65 440.7L670.90 484.8L671.15 471.5L671.40 484.8L671.65 446.7L671.90 484.8L672.15 484.8L672.40 484.8L672.65 484.8L672.90 484.8L673.15 484.8L673.40 484.8L673.65 484.8L673.90 484.8L674.15 484.8L674.40 470.0L674.65 468.6L674.90 484.8L675.15 435.7L675.40 484.8L675.65 454.4L675.90 455.3L676.15 483.4L676.40 459.0L676.65 446.8L676.90 459.0L677.15 453.8L677.40 449.4L677.65 484.8L677.90 439.9L678.15 432.8L678.40 445.5L678.65 484.8L678.90 484.8L679.15 465.9L679.40 484.8L679.65 484.8L679.90 445.7L680.15 484.8L680.40 466.3L680.65 484.8L680.90 467.2L681.15 460.7L681.40 484.8L681.65 484.8L681.90 484.8L682.15 484.8L682.40 484.8L682.65 484.8L682.90 442.9L683.15 434.2L683.40 455.7L683.65 484.8L683.90 477.7L684.15 444.5L684.40 484.8L684.65 440.1L684.90 440.5L685.15 461.5L685.40 450.4L685.65 448.8L685.90 439.1L686.15 484.8L686.40 443.2L686.65 475.9L686.90 484.8L687.15 484.8L687.40 484.8L687.65 484.8L687.90 484.8L688.15 484.8L688.40 484.8L688.65 435.3L688.90 450.4L689.15 443.1L689.40 484.8L689.65 465.8L689.90 457.1L690.15 484.8L690.40 484.8L690.65 461.3L690.90 474.4L691.15 484.8L691.40 455.1L691.65 472.2L691.90 445.2L692.15 464.1L692.40 473.8L692.65 484.8L692.90 484.8L693.15 484.8L693.40 484.8L693.65 484.8L693.90 450.7L694.15 442.0L694.40 484.8L694.65 478.3L694.90 479.4L695.15 459.9L695.40 481.5L695.65 484.8L695.90 484.8L696.15 459.8L696.40 484.8L696.65 441.5L696.90 445.6L697.15 484.8L697.40 448.0L697.65 484.8L697.90 444.0L698.15 471.5L698.40 484.8L698.65 478.1L698.90 484.8L699.15 459.7L699.40 460.1L699.65 484.8L699.90 484.8L700.15 484.8L700.40 462.2L700.65 484.8L700.90 458.6L701.15 484.8L701.40 458.0L701.65 479.5L701.90 470.6L702.15 469.0L702.40 484.8L702.65 484.8L702.90 484.8L703.15 443.4L703.40 465.5L703.65 446.4L703.90 473.6L704.15 484.8L704.40 470.6L704.65 454.4L704.90 448.3L705.15 459.0L705.40 484.8L705.65 484.8L705.90 438.2L706.15 475.2L706.40 475.7L706.65 440.3L706.90 484.8L707.15 453.2L707.40 481.2L707.65 432.1L707.90 456.0L708.15 453.0L708.40 484.8L708.65 484.8L708.90 484.8L709.15 484.8L709.40 456.1L709.65 474.1L709.90 484.8L710.15 484.8L710.40 478.2L710.65 484.8L710.90 447.5L711.15 444.1L711.40 428.7L711.65 447.9L711.90 484.8L712.15 484.8L712.40 484.8L712.65 484.8L712.90 472.1L713.15 446.7L713.40 452.2L713.65 452.7L713.90 460.4L714.15 451.5L714.40 484.8L714.65 484.8L714.90 484.8L715.15 484.8L715.40 439.0L715.65 484.8L715.90 450.1L716.15 484.8L716.40 461.7L716.65 475.1L716.90 464.2L717.15 473.2L717.40 454.2L717.65 483.4L717.90 448.6L718.15 460.2L718.40 478.1L718.65 470.6L718.90 484.8L719.15 484.8L719.40 477.3L719.65 459.1L719.90 484.8L720.15 484.8L720.40 448.0L720.65 484.8L720.90 451.7L721.15 484.8L721.40 484.8L721.65 484.8L721.90 484.8L722.15 484.8L722.40 484.8L722.65 450.8L722.90 484.8L723.15 457.5L723.40 484.8L723.65 459.3L723.90 484.8L724.15 484.8L724.40 484.8L724.65 484.8L724.90 484.8L725.15 484.8L725.40 462.9L725.65 458.6L725.90 478.1L726.15 484.8L726.40 454.6L726.65 431.8L726.90 480.5L727.15 459.0L727.40 458.1L727.65 484.8L727.90 464.5L728.15 484.8L728.40 442.3L728.65 478.5L728.90 484.8L729.15 476.9L729.40 463.5L729.65 484.8L729.90 484.8L730.15 484.8L730.40 477.5L730.65 450.9L730.90 436.4L731.15 452.1L731.40 461.0L731.65 445.0L731.90 447.3L732.15 439.5L732.40 446.4L732.65 473.3L732.90 461.6L733.15 463.7L733.40 460.6L733.65 484.8L733.90 484.8L734.15 484.8L734.40 484.8L734.65 484.8L734.90 467.2L735.15 484.8L735.40 484.8L735.65 452.9L735.90 449.9L736.15 466.5L736.40 439.7L736.65 437.7L736.90 484.8L737.15 447.5L737.40 457.9L737.65 458.4L737.90 484.8L738.15 484.8L738.40 484.8L738.65 484.8L738.90 484.8L739.15 484.8L739.40 484.8L739.65 484.8L739.90 455.4L740.15 473.0L740.40 484.8L740.65 484.8L740.90 484.8L741.15 484.8L741.40 469.5L741.65 484.8L741.90 449.5L742.15 473.0L742.40 470.3L742.65 470.4L742.90 453.3L743.15 484.8L743.40 446.9L743.65 484.8L743.90 466.1L744.15 469.8L744.40 457.1L744.65 484.8L744.90 449.6L745.15 460.5L745.40 450.8L745.65 467.5L745.90 445.4L746.15 472.7L746.40 484.8L746.65 444.3L746.90 468.1L747.15 484.8L747.40 480.7L747.65 484.8L747.90 436.3L748.15 484.8L748.40 484.8L748.65 457.2L748.90 484.8L749.15 438.2L749.40 484.8L749.65 484.8L749.90 470.1L750.15 484.8L750.40 484.8L750.65 484.8L750.90 460.1L751.15 484.8L751.40 484.8L751.65 447.0L751.90 484.8L752.15 484.8L752.40 484.8L752.65 484.8L752.90 448.1L753.15 458.2L753.40 484.8L753.65 454.6L753.90 484.8L754.15 484.8L754.40 437.4L754.65 484.8L754.90 484.8L755.15 463.0L755.40 484.8L755.65 484.8L755.90 484.8L756.15 484.8L756.40 471.4L756.65 448.2L756.90 484.8L757.15 459.6L757.40 457.3L757.65 484.8L757.90 466.6L758.15 484.8L758.40 449.2L758.65 460.7L758.90 474.2L759.15 484.8L759.40 470.6L759.65 484.8L759.90 455.5L760.15 480.8L760.40 484.8L760.65 451.7L760.90 455.4L761.15 484.8L761.40 448.1L761.65 484.8L761.90 484.8L762.15 471.0L762.40 484.8L762.65 484.8L762.90 484.3L763.15 443.5L763.40 443.9L763.65 484.8L763.90 442.6L764.15 478.6L764.40 463.7L764.65 453.0L764.90 466.3L765.15 434.8L765.40 467.9L765.65 484.8L765.90 446.7L766.15 484.8L766.40 484.8L766.65 484.8L766.90 451.4L767.15 454.6L767.40 455.0L767.65 451.9L767.90 442.2L768.15 480.5L768.40 452.8L768.65 484.8L768.90 484.8L769.15 450.9L769.40 464.8L769.65 484.8L769.90 465.8L770.15 484.8L770.40 484.8L770.65 464.0L770.90 484.8L771.15 484.8L771.40 484.8L771.65 441.9L771.90 484.8L772.15 470.9L772.40 460.1L772.65 459.5L772.90 484.8L773.15 484.8L773.40 474.5L773.65 456.4L773.90 484.8L774.15 484.8L774.40 452.9L774.65 451.2L774.90 467.2L775.15 484.8L775.40 466.3L775.65 476.9L775.90 456.2L776.15 484.8L776.40 477.0L776.65 484.8L776.90 484.8L777.15 473.3L777.40 481.5L777.65 484.8L777.90 467.5L778.15 484.8L778.40 484.8L778.65 466.7L778.90 471.5L779.15 452.7L779.40 484.8L779.65 484.8L779.90 473.6L780.15 466.5L780.40 439.5L780.65 462.3L780.90 484.8L781.15 458.2L781.40 484.8L781.65 484.8L781.90 435.2L782.15 471.4L782.40 460.5L782.65 464.3L782.90 443.2L783.15 473.3L783.40 451.2L783.65 484.8L783.90 484.8L784.15 448.2L784.40 447.6L784.65 466.4L784.90 476.4L785.15 479.3L785.40 484.8L785.65 446.9L785.90 462.8L786.15 484.8L786.40 471.3L786.65 454.7L786.90 467.3L787.15 461.0L787.40 484.8L787.65 467.4L787.90 484.8L788.15 484.8L788.40 484.8L788.65 458.1L788.90 456.9L789.15 464.6L789.40 484.8L789.65 468.3L789.90 484.8L790.15 484.8L790.40 484.8L790.65 484.8L790.90 460.4L791.15 431.7L791.40 461.3L791.65 462.6L791.90 484.8L792.15 484.8L792.40 484.8L792.65 484.8L792.90 484.8L793.15 484.8L793.40 484.8L793.65 484.8L793.90 484.8L794.15 484.8L794.40 471.3L794.65 484.8L794.90 456.5L795.15 456.2L795.40 484.8L795.65 464.9L795.90 484.8L796.15 439.2L796.40 453.5L796.65 484.8L796.90 484.8L797.15 475.1L797.40 484.8L797.65 484.8L797.90 463.2L798.15 484.8L798.40 484.8L798.65 458.5L798.90 484.8L799.15 480.2L799.40 484.8L799.65 484.8L799.90 472.5L800.15 484.8L800.40 443.3L800.65 484.8L800.90 442.3L801.15 484.8L801.40 467.9L801.65 484.8L801.90 484.8L802.15 484.8L802.40 465.8L802.65 484.8L802.90 454.0L803.15 484.8L803.40 484.8L803.65 477.1L803.90 484.8L804.15 484.8L804.40 447.0L804.65 470.0L804.90 484.8L805.15 484.8L805.40 484.8L805.65 484.8L805.90 470.9L806.15 484.8L806.40 484.8L806.65 484.8L806.90 447.8L807.15 484.8L807.40 484.8L807.65 451.2L807.90 474.6L808.15 484.8L808.40 484.8L808.65 484.8L808.90 484.8L809.15 484.8L809.40 484.8L809.65 480.3L809.90 471.4L810.15 484.8L810.40 484.8L810.65 484.8L810.90 484.8L811.15 484.8L811.40 484.8L811.65 484.8L811.90 484.8L812.15 484.8L812.40 484.8L812.65 484.8L812.90 484.8L813.15 484.8L813.40 474.4L813.65 484.8L813.90 484.8L814.15 484.8L814.40 443.2L814.65 484.8L814.90 454.8L815.15 450.8L815.40 448.8L815.65 484.8L815.90 441.5L816.15 484.8L816.40 484.8L816.65 484.8L816.90 470.9L817.15 484.8L817.40 484.8L817.65 452.6L817.90 484.8L818.15 484.8L818.40 464.5L818.65 484.8L818.90 456.5L819.15 484.8L819.40 456.9L819.65 477.0L819.90 444.6L820.15 484.8L820.40 484.8L820.65 484.8L820.90 484.8L821.15 484.8L821.40 455.9L821.65 484.8L821.90 484.8L822.15 462.6L822.40 459.3L822.65 459.3L822.90 484.8L823.15 484.8L823.40 458.3L823.65 484.8L823.90 484.8L824.15 464.0L824.40 447.5L824.65 484.8L824.90 484.8L825.15 484.8L825.40 484.8L825.65 484.8L825.90 472.3L826.15 484.8L826.40 484.8L826.65 484.8L826.90 484.8L827.15 484.8L827.40 484.8L827.65 433.2L827.90 464.8L828.15 484.8L828.40 484.8L828.65 484.8L828.90 484.8L829.15 484.8L829.40 484.8L829.65 462.8L829.90 484.8L830.15 484.8L830.40 484.8L830.65 484.8L830.90 484.8L831.15 484.8L831.40 455.9L831.65 484.8L831.90 457.9L832.15 484.8L832.40 484.8L832.65 484.8L832.90 484.8L833.15 468.3L833.40 450.1L833.65 484.8L833.90 467.6L834.15 484.8L834.40 484.8L834.65 484.8L834.90 460.4L835.15 484.8L835.40 484.8L835.65 484.8L835.90 478.0L836.15 484.8L836.40 484.8L836.65 484.8L836.90 484.8L837.15 484.8L837.40 448.4L837.65 484.8L837.90 484.8L838.15 480.0L838.40 484.8L838.65 484.8L838.90 484.8L839.15 453.9L839.40 484.8L839.65 472.0L839.90 484.8L840.15 484.8L840.40 484.8L840.65 484.8L840.90 475.9L841.15 443.2L841.40 484.8L841.65 463.8L841.90 484.8L842.15 470.7L842.40 484.8L842.65 484.8L842.90 484.8L843.15 484.8L843.40 484.8L843.65 484.8L843.90 484.8L844.15 484.8L844.40 469.4L844.65 484.8L844.90 484.8L845.15 446.8L845.40 484.8L845.65 484.8L845.90 472.4L846.15 484.8L846.40 432.4L846.65 484.8L846.90 449.1L847.15 446.7L847.40 462.8L847.65 484.8L847.90 484.8L848.15 484.8L848.40 466.9L848.65 484.8L848.90 484.8L849.15 460.2L849.40 484.8L849.65 484.8L849.90 484.8L850.15 484.8L850.40 455.4L850.65 484.8L850.90 484.8L851.15 484.8L851.40 484.8L851.65 484.8L851.90 484.8L852.15 484.8L852.40 461.3L852.65 484.8L852.90 460.7L853.15 484.8L853.40 465.1L853.65 484.8L853.90 484.8L854.15 484.8L854.40 479.1L854.65 462.2L854.90 438.1L855.15 452.3L855.40 484.8L855.65 484.8L855.90 484.8L856.15 484.8L856.40 448.6L856.65 484.8L856.90 484.8L857.15 484.8L857.40 450.6L857.65 484.8L857.90 484.8L858.15 454.9L858.40 484.8L858.65 484.8L858.90 484.8L859.15 484.8L859.40 464.9L859.65 484.8L859.90 484.8L860.15 484.8L860.40 470.7L860.65 484.8L860.90 484.8L861.15 484.8L861.40 484.8L861.65 484.8L861.90 484.8L862.15 484.8L862.40 484.8L862.65 484.8L862.90 482.7L863.15 477.9L863.40 484.8L863.65 484.8L863.90 461.3L864.15 484.8L864.40 484.8L864.65 458.5L864.90 483.8L865.15 461.4L865.40 484.8L865.65 484.8L865.90 484.8L866.15 442.3L866.40 484.8L866.65 484.8L866.90 484.8L867.15 484.8L867.40 484.8L867.65 484.8L867.90 484.8L868.15 484.8L868.40 484.8L868.65 484.8L868.90 484.8L869.15 477.5L869.40 484.8L869.65 484.8L869.90 484.8L870.15 484.8L870.40 484.8L870.65 484.8L870.90 484.8L871.15 484.8L871.40 484.8L871.65 439.4L871.90 484.8L872.15 484.8L872.40 484.8L872.65 477.8L872.90 484.8L873.15 484.8L873.40 460.1L873.65 484.8L873.90 484.8L874.15 484.8L874.40 484.8L874.65 471.2L874.90 476.0L875.15 484.8L875.40 462.2L875.65 484.8L875.90 463.5L876.15 484.8L876.40 484.8L876.65 468.2L876.90 484.8L877.15 484.8L877.40 484.8L877.65 484.8L877.90 484.8L878.15 449.8L878.40 484.8L878.65 463.8L878.90 435.6L879.15 484.8L879.40 484.8L879.65 470.4L879.90 441.9L880.15 484.8L880.40 484.8L880.65 484.8L880.90 480.0L881.15 484.8L881.40 473.8L881.65 484.8L881.90 484.8L882.15 484.8L882.40 484.8L882.65 484.8L882.90 484.8L883.15 484.8L883.40 446.1L883.65 484.8L883.90 484.8L884.15 456.6L884.40 484.8L884.65 484.8L884.90 484.8L885.15 484.8L885.40 484.8L885.65 484.8L885.90 484.8L886.15 438.6L886.40 484.8L886.65 484.8L886.90 484.8L887.15 484.8L887.40 484.8L887.65 436.9L887.90 484.8L888.15 437.9L888.40 481.4L888.65 484.8L888.90 484.8L889.15 474.8L889.40 454.3L889.65 484.8L889.90 484.8L890.15 484.8L890.40 450.1L890.65 465.9L890.90 484.8L891.15 484.8L891.40 484.8L891.65 484.8L891.90 484.8L892.15 484.8L892.40 484.8L892.65 484.8L892.90 459.3L893.15 484.8L893.40 437.6L893.65 484.8L893.90 425.8L894.15 459.0L894.40 484.1L894.65 484.8L894.90 484.8L895.15 484.8L895.40 484.8L895.65 439.6L895.90 484.8L896.15 439.8L896.40 484.8L896.65 469.0L896.90 484.8L897.15 484.8L897.40 484.8L897.65 484.8L897.90 484.8L898.15 484.8L898.40 459.2L898.65 468.4L898.90 472.8L899.15 484.8L899.40 454.1L899.65 484.8L899.90 484.8L900.15 484.8L900.40 448.0L900.65 484.8L900.90 484.8L901.15 484.8L901.40 484.8L901.65 484.8L901.90 484.8L902.15 484.8L902.40 435.3L902.65 484.8L902.90 484.8L903.15 484.8L903.40 484.8L903.65 460.7L903.90 459.2L904.15 484.8L904.40 484.8L904.65 484.8L904.90 484.8L905.15 446.5L905.40 470.6L905.65 431.9L905.90 484.8L906.15 484.8L906.40 453.8L906.65 484.8L906.90 484.8L907.15 484.8L907.40 479.3L907.65 484.8L907.90 484.8L908.15 450.1L908.40 450.2L908.65 466.6L908.90 479.2L909.15 484.8L909.40 458.8L909.65 450.7L909.90 475.0L910.15 460.7L910.40 484.8L910.65 484.8L910.90 484.8L911.15 452.7L911.40 459.6L911.65 440.1L911.90 484.8L912.15 450.3L912.40 443.3L912.65 448.0L912.90 484.8L913.15 484.8L913.40 467.2L913.65 484.8L913.90 457.3L914.15 447.1L914.40 484.8L914.65 435.7L914.90 484.8L915.15 479.2L915.40 480.7L915.65 484.8L915.90 484.8L916.15 468.5L916.40 484.8L916.65 453.4L916.90 484.8L917.15 477.1L917.40 484.8L917.65 470.9L917.90 484.8L918.15 447.2L918.40 484.8L918.65 438.5L918.90 450.1L919.15 484.8L919.40 435.4L919.65 421.4L919.90 403.1L920.15 390.0L920.40 375.7L920.65 357.3L920.90 339.3L921.15 314.9L921.40 294.3L921.65 280.2L921.90 266.0L922.15 275.5L922.40 285.0L922.65 276.5L922.90 268.0L923.15 275.4L923.40 283.0L923.65 275.0L923.90 267.0L924.15 259.0L924.40 251.0L924.65 258.1L924.90 265.1L925.15 264.5L925.40 258.7L925.65 255.1L925.90 260.8L926.15 266.6L926.40 268.0L926.65 263.0L926.90 258.0L927.15 258.8L927.40 263.4L927.65 268.1L927.90 267.0L928.15 264.5L928.40 262.0L928.65 263.7L928.90 268.3L929.15 274.0L929.40 284.0L929.65 294.0L929.90 312.0L930.15 341.9L930.40 362.5L930.65 368.8L930.90 374.0L931.15 378.8L931.40 384.2L931.65 393.7L931.90 400.0L932.15 404.1L932.40 410.0L932.65 412.1L932.90 422.0L933.15 419.2L933.40 425.4L933.65 446.5L933.90 484.8L934.15 484.8L934.40 484.8L934.65 473.1L934.90 437.0L935.15 484.8L935.40 466.2L935.65 436.6L935.90 484.8L936.15 433.6L936.40 445.7L936.65 466.2L936.90 441.5L937.15 480.5L937.40 484.8L937.65 484.8L937.90 449.6L938.15 455.7L938.40 484.8L938.65 484.8L938.90 434.9L939.15 484.8L939.40 478.2L939.65 484.8L939.90 435.2L940.15 448.7L940.40 484.8L940.65 472.6L940.90 444.7L941.15 484.8L941.40 434.3L941.65 484.8L941.90 484.8L942.15 474.0L942.40 436.7L942.65 457.1L942.90 484.8L943.15 475.1L943.40 484.8L943.65 484.8L943.90 473.4L944.15 484.8L944.40 484.8L944.65 436.8L944.90 484.8L945.15 484.8L945.40 458.3L945.65 477.1L945.90 435.7L946.15 449.8L946.40 447.1L946.65 466.0L946.90 484.8L947.15 484.8L947.40 484.8L947.65 484.8L947.90 453.9L948.15 483.7L948.40 484.8L948.65 484.8L948.90 484.8L949.15 484.8L949.40 461.2L949.65 477.9L949.90 467.1L950.15 446.6L950.40 433.4L950.65 484.8L950.90 456.3L951.15 455.1L951.40 457.8L951.65 460.2L951.90 484.8L952.15 484.8L952.40 468.4L952.65 484.8L952.90 456.0L953.15 453.8L953.40 484.8L953.65 440.7L953.90 484.8L954.15 452.6L954.40 457.2L954.65 484.8L954.90 484.8L955.15 484.8L955.40 452.3L955.65 484.8L955.90 484.8L956.15 451.5L956.40 484.8L956.65 484.8L956.90 484.8L957.15 455.4L957.40 458.4L957.65 440.1L957.90 454.7L958.15 484.8L958.40 429.9L958.65 484.8L958.90 458.3L959.15 442.7L959.40 484.8L959.65 458.4L959.90 449.1L960.15 484.8L960.40 484.8L960.65 457.2L960.90 445.2L961.15 454.6L961.40 484.8L961.65 448.8L961.90 454.0L962.15 448.2L962.40 439.5L962.65 440.8L962.90 448.8L963.15 450.4L963.40 484.8L963.65 459.2L963.90 484.8L964.15 466.5L964.40 454.3L964.65 484.8L964.90 484.8L965.15 430.3L965.40 466.2L965.65 484.8L965.90 484.8L966.15 438.1" fill="none" stroke="#0072BD" stroke-width="1.22" stroke-linejoin="round"/></g>
<path d="M122.19999999999999 479.30H966.9" stroke="#000" stroke-width="0.8"/>
<path d="M966.0 2.1V478.8" stroke="#000" stroke-width="1.8"/>
<g stroke="#000" stroke-width="1.7" fill="none"><rect x="638.0" y="26.4" width="256.5" height="237.49999999999997" fill="#fff"/><path d="M671.2 263.9v-14.3M671.2 26.4v14.3"/><path d="M843.0 263.9v-14.3M843.0 26.4v14.3"/><path d="M638.0 41.8h14.3M894.5 41.8h-14.3"/><path d="M638.0 145.0h14.3M894.5 145.0h-14.3"/><path d="M638.0 248.2h14.3M894.5 248.2h-14.3"/></g>
<g clip-path="url(#ci)"><path d="M637.00 228.7L637.23 271.9L637.46 271.9L637.69 236.5L637.92 203.8L638.15 205.9L638.38 224.6L638.61 271.9L638.84 271.9L639.07 270.9L639.30 254.2L639.53 256.3L639.76 251.0L639.99 231.8L640.22 217.8L640.45 213.4L640.68 210.7L640.91 211.1L641.14 222.7L641.37 255.6L641.60 270.3L641.83 250.8L642.06 243.0L642.29 257.2L642.52 271.9L642.75 271.9L642.98 271.9L643.21 271.9L643.44 271.9L643.67 271.9L643.90 249.6L644.13 222.7L644.36 212.3L644.59 232.6L644.82 240.2L645.05 224.1L645.28 221.6L645.51 244.8L645.74 262.3L645.97 269.0L646.20 271.9L646.43 271.9L646.66 271.9L646.89 271.9L647.12 271.9L647.35 271.9L647.58 271.9L647.81 250.5L648.04 232.5L648.27 239.8L648.50 240.8L648.73 230.1L648.96 224.4L649.19 228.2L649.42 230.3L649.65 229.1L649.88 225.2L650.11 216.2L650.34 211.1L650.57 213.2L650.80 214.0L651.03 212.0L651.26 214.1L651.49 223.8L651.72 232.1L651.95 237.9L652.18 253.3L652.41 271.9L652.64 271.9L652.87 239.9L653.10 211.2L653.33 224.1L653.56 230.4L653.79 224.4L654.02 223.6L654.25 232.5L654.48 232.1L654.71 214.3L654.94 204.2L655.17 208.4L655.40 215.2L655.63 226.9L655.86 234.2L656.09 233.2L656.32 249.6L656.55 271.9L656.78 271.9L657.01 251.6L657.24 214.1L657.47 216.2L657.70 216.6L657.93 213.6L658.16 215.6L658.39 226.9L658.62 229.1L658.85 214.4L659.08 210.7L659.31 227.6L659.54 237.2L659.77 232.7L660.00 226.4L660.23 216.6L660.46 214.1L660.69 225.2L660.92 228.2L661.15 216.2L661.38 207.1L661.61 203.4L661.84 202.0L662.07 205.0L662.30 209.7L662.53 217.6L662.76 224.0L662.99 227.7L663.22 226.6L663.45 216.4L663.68 210.4L663.91 211.9L664.14 213.5L664.37 214.9L664.60 218.3L664.83 225.3L665.06 228.2L665.29 223.5L665.52 237.0L665.75 271.9L665.98 271.9L666.21 246.7L666.44 213.5L666.67 214.3L666.90 229.7L667.13 271.9L667.36 271.9L667.59 248.9L667.82 227.3L668.05 236.8L668.28 243.6L668.51 245.1L668.74 244.5L668.97 239.9L669.20 238.1L669.43 241.7L669.66 238.0L669.89 220.9L670.12 215.5L670.35 231.9L670.58 247.0L670.81 259.4L671.04 262.4L671.27 247.7L671.50 232.7L671.73 217.0L671.96 208.6L672.19 213.8L672.42 215.5L672.65 210.8L672.88 212.0L673.11 224.2L673.34 233.0L673.57 235.4L673.80 234.9L674.03 228.7L674.26 231.2L674.49 250.0L674.72 271.8L674.95 271.9L675.18 271.9L675.41 271.9L675.64 271.9L675.87 250.6L676.10 232.5L676.33 271.9L676.56 271.9L676.79 249.0L677.02 219.7L677.25 211.1L677.48 209.0L677.71 219.2L677.94 222.7L678.17 213.6L678.40 208.2L678.63 209.0L678.86 211.9L679.09 217.1L679.32 215.6L679.55 207.2L679.78 206.3L680.01 215.2L680.24 215.0L680.47 205.3L680.70 207.2L680.93 214.2L681.16 212.8L681.39 210.9L681.62 209.2L681.85 207.0L682.08 197.3L682.31 197.7L682.54 196.6L682.77 193.4L683.00 191.9L683.23 193.4L683.46 194.1L683.69 194.5L683.92 194.9L684.15 191.8L684.38 192.1L684.61 201.5L684.84 204.6L685.07 202.8L685.30 198.3L685.53 192.5L685.76 187.9L685.99 186.7L686.22 185.9L686.45 186.2L686.68 187.6L686.91 188.5L687.14 191.0L687.37 195.1L687.60 193.5L687.83 188.0L688.06 181.2L688.29 179.4L688.52 177.2L688.75 174.0L688.98 171.3L689.21 169.3L689.44 167.7L689.67 166.5L689.90 166.5L690.13 168.5L690.36 171.1L690.59 172.0L690.82 171.1L691.05 169.4L691.28 162.7L691.51 155.9L691.74 151.5L691.97 148.1L692.20 144.8L692.43 141.5L692.66 138.5L692.89 135.4L693.12 132.6L693.35 130.2L693.58 127.9L693.81 125.7L694.04 123.8L694.27 122.3L694.50 121.0L694.73 119.8L694.96 118.7L695.19 117.7L695.42 116.7L695.65 115.9L695.88 115.2L696.11 115.0L696.34 115.0L696.57 115.5L696.80 116.6L697.03 118.4L697.26 120.5L697.49 122.8L697.72 125.2L697.95 128.1L698.18 131.3L698.41 135.8L698.64 140.9L698.87 146.3L699.10 151.6L699.33 156.4L699.56 159.3L699.79 161.4L700.02 163.0L700.25 164.8L700.48 165.6L700.71 165.3L700.94 164.4L701.17 163.2L701.40 162.0L701.63 161.0L701.86 159.5L702.09 157.4L702.32 155.6L702.55 154.1L702.78 152.5L703.01 150.9L703.24 149.5L703.47 148.3L703.70 146.6L703.93 144.6L704.16 142.6L704.39 140.7L704.62 138.9L704.85 137.0L705.08 135.2L705.31 133.3L705.54 131.3L705.77 129.1L706.00 126.6L706.23 124.7L706.46 122.7L706.69 120.7L706.92 118.4L707.15 115.8L707.38 113.1L707.61 110.9L707.84 108.9L708.07 107.2L708.30 105.9L708.53 104.7L708.76 103.7L708.99 103.1L709.22 102.9L709.45 103.5L709.68 104.8L709.91 106.5L710.14 108.1L710.37 109.6L710.60 110.6L710.83 110.6L711.06 109.7L711.29 108.1L711.52 106.1L711.75 103.7L711.98 99.2L712.21 93.7L712.44 89.4L712.67 86.3L712.90 83.6L713.13 81.3L713.36 79.5L713.59 77.9L713.82 76.4L714.05 75.2L714.28 74.2L714.51 73.7L714.74 73.8L714.97 74.8L715.20 76.6L715.43 78.9L715.66 81.6L715.89 84.5L716.12 87.6L716.35 90.6L716.58 93.4L716.81 95.9L717.04 97.9L717.27 99.1L717.50 99.6L717.73 98.9L717.96 97.0L718.19 94.1L718.42 90.4L718.65 86.1L718.88 81.6L719.11 77.1L719.34 72.9L719.57 69.1L719.80 66.0L720.03 63.8L720.26 62.9L720.49 63.2L720.72 64.2L720.95 65.8L721.18 67.7L721.41 69.8L721.64 71.9L721.87 73.8L722.10 75.4L722.33 76.3L722.56 76.5L722.79 75.9L723.02 74.5L723.25 72.4L723.48 69.8L723.71 66.7L723.94 63.4L724.17 59.9L724.40 56.3L724.63 52.8L724.86 49.4L725.09 46.3L725.32 43.6L725.55 41.4L725.78 39.9L726.01 39.2L726.24 39.3L726.47 40.6L726.70 42.8L726.93 45.7L727.16 49.0L727.39 52.6L727.62 56.2L727.85 59.6L728.08 62.6L728.31 64.8L728.54 66.2L728.77 66.4L729.00 65.3L729.23 63.1L729.46 60.4L729.69 57.5L729.92 54.9L730.15 52.9L730.38 52.1L730.61 52.3L730.84 53.2L731.07 54.5L731.30 56.2L731.53 58.4L731.76 60.8L731.99 63.5L732.22 66.4L732.45 69.5L732.68 72.8L732.91 78.1L733.14 85.1L733.37 92.7L733.60 99.8L733.83 105.4L734.06 108.5L734.29 110.8L734.52 112.5L734.75 113.4L734.98 113.6L735.21 113.5L735.44 113.4L735.67 114.1L735.90 116.3L736.13 119.3L736.36 122.6L736.59 125.4L736.82 126.9L737.05 126.5L737.28 125.4L737.51 123.8L737.74 121.2L737.97 118.1L738.20 114.8L738.43 111.6L738.66 108.5L738.89 105.1L739.12 100.7L739.35 96.3L739.58 93.0L739.81 91.7L740.04 92.1L740.27 93.2L740.50 94.7L740.73 96.5L740.96 98.6L741.19 100.6L741.42 102.5L741.65 104.3L741.88 106.2L742.11 108.3L742.34 110.1L742.57 111.2L742.80 111.0L743.03 108.3L743.26 103.6L743.49 97.7L743.72 91.2L743.95 85.0L744.18 80.0L744.41 75.2L744.64 70.4L744.87 65.6L745.10 61.1L745.33 56.9L745.56 53.3L745.79 50.1L746.02 46.8L746.25 43.6L746.48 40.9L746.71 39.0L746.94 38.0L747.17 38.2L747.40 39.3L747.63 41.0L747.86 43.2L748.09 45.9L748.32 48.8L748.55 51.8L748.78 54.9L749.01 57.8L749.24 60.5L749.47 63.6L749.70 67.2L749.93 70.5L750.16 72.6L750.39 72.9L750.62 72.5L750.85 71.8L751.08 71.2L751.31 70.9L751.54 71.7L751.77 73.6L752.00 75.8L752.23 77.7L752.46 78.7L752.69 78.0L752.92 75.4L753.15 71.6L753.38 67.4L753.61 63.5L753.84 60.5L754.07 58.7L754.30 57.0L754.53 55.4L754.76 54.0L754.99 52.9L755.22 52.3L755.45 52.1L755.68 52.8L755.91 54.3L756.14 56.4L756.37 58.8L756.60 61.3L756.83 63.6L757.06 65.6L757.29 66.9L757.52 67.3L757.75 66.7L757.98 65.2L758.21 63.1L758.44 60.7L758.67 58.2L758.90 55.8L759.13 53.8L759.36 52.5L759.59 51.5L759.82 50.5L760.05 49.7L760.28 48.9L760.51 48.1L760.74 47.4L760.97 46.8L761.20 46.1L761.43 45.5L761.66 44.9L761.89 44.3L762.12 43.7L762.35 43.2L762.58 42.6L762.81 42.1L763.04 41.6L763.27 41.2L763.50 40.8L763.73 40.4L763.96 40.0L764.19 39.5L764.42 39.1L764.65 38.7L764.88 38.4L765.11 38.2L765.34 38.0L765.57 38.0L765.80 38.5L766.03 39.5L766.26 40.8L766.49 42.4L766.72 44.2L766.95 46.0L767.18 49.0L767.41 53.0L767.64 57.0L767.87 60.2L768.10 61.5L768.33 61.6L768.56 61.6L768.79 61.7L769.02 61.7L769.25 61.9L769.48 63.2L769.71 65.9L769.94 69.5L770.17 73.5L770.40 77.4L770.63 80.8L770.86 83.7L771.09 86.9L771.32 90.0L771.55 92.8L771.78 94.7L772.01 95.4L772.24 95.0L772.47 94.0L772.70 92.5L772.93 90.6L773.16 88.6L773.39 86.3L773.62 84.2L773.85 82.1L774.08 80.1L774.31 77.8L774.54 75.2L774.77 72.6L775.00 69.9L775.23 67.3L775.46 64.8L775.69 62.6L775.92 60.6L776.15 58.9L776.38 57.2L776.61 55.7L776.84 54.2L777.07 53.0L777.30 52.0L777.53 51.3L777.76 50.8L777.99 50.3L778.22 49.8L778.45 49.5L778.68 49.3L778.91 49.2L779.14 49.5L779.37 50.3L779.60 51.4L779.83 52.7L780.06 54.2L780.29 55.6L780.52 57.2L780.75 59.1L780.98 61.3L781.21 63.5L781.44 65.7L781.67 67.7L781.90 69.4L782.13 71.4L782.36 73.4L782.59 74.9L782.82 75.8L783.05 75.5L783.28 73.6L783.51 70.8L783.74 67.6L783.97 64.7L784.20 62.0L784.43 59.0L784.66 56.0L784.89 53.8L785.12 52.7L785.35 52.4L785.58 52.2L785.81 52.1L786.04 55.1L786.27 61.6L786.50 68.5L786.73 72.7L786.96 72.0L787.19 67.8L787.42 61.9L787.65 55.9L787.88 51.3L788.11 46.9L788.34 42.8L788.57 39.5L788.80 37.8L789.03 36.4L789.26 35.3L789.49 34.6L789.72 34.4L789.95 35.6L790.18 38.5L790.41 42.6L790.64 47.3L790.87 52.2L791.10 58.2L791.33 66.5L791.56 74.7L791.79 80.5L792.02 82.2L792.25 82.9L792.48 83.3L792.71 83.8L792.94 84.4L793.17 85.4L793.40 86.9L793.63 88.8L793.86 90.7L794.09 92.6L794.32 94.9L794.55 97.5L794.78 99.8L795.01 101.3L795.24 101.7L795.47 100.8L795.70 98.9L795.93 96.4L796.16 93.6L796.39 90.9L796.62 88.7L796.85 86.7L797.08 84.7L797.31 82.7L797.54 80.9L797.77 79.2L798.00 77.8L798.23 76.6L798.46 75.5L798.69 74.5L798.92 73.8L799.15 73.7L799.38 75.4L799.61 78.5L799.84 81.5L800.07 83.0L800.30 81.7L800.53 77.8L800.76 72.6L800.99 67.5L801.22 62.4L801.45 56.6L801.68 51.1L801.91 46.7L802.14 44.1L802.37 41.9L802.60 40.0L802.83 38.6L803.06 38.0L803.29 38.9L803.52 42.0L803.75 46.3L803.98 50.7L804.21 54.7L804.44 59.4L804.67 64.6L804.90 69.8L805.13 74.3L805.36 77.5L805.59 78.8L805.82 77.6L806.05 74.5L806.28 70.5L806.51 66.7L806.74 64.0L806.97 62.0L807.20 60.0L807.43 58.1L807.66 56.5L807.89 55.3L808.12 54.5L808.35 54.0L808.58 53.6L808.81 53.3L809.04 53.1L809.27 52.9L809.50 52.8L809.73 52.8L809.96 53.2L810.19 53.8L810.42 54.5L810.65 55.4L810.88 56.3L811.11 57.2L811.34 58.4L811.57 60.0L811.80 61.3L812.03 62.1L812.26 61.8L812.49 60.3L812.72 58.3L812.95 56.5L813.18 55.4L813.41 54.5L813.64 53.8L813.87 53.2L814.10 52.8L814.33 52.9L814.56 53.9L814.79 55.4L815.02 57.5L815.25 59.9L815.48 62.5L815.71 66.3L815.94 71.1L816.17 76.4L816.40 81.7L816.63 87.5L816.86 94.1L817.09 100.4L817.32 105.0L817.55 107.4L817.78 109.1L818.01 109.1L818.24 106.7L818.47 104.1L818.70 103.7L818.93 105.0L819.16 106.8L819.39 108.5L819.62 110.1L819.85 111.8L820.08 113.7L820.31 115.8L820.54 118.5L820.77 122.1L821.00 125.8L821.23 129.3L821.46 132.4L821.69 135.6L821.92 138.8L822.15 141.1L822.38 142.2L822.61 142.2L822.84 141.4L823.07 140.1L823.30 138.3L823.53 136.6L823.76 134.9L823.99 132.9L824.22 131.6L824.45 130.8L824.68 129.6L824.91 128.3L825.14 127.1L825.37 126.1L825.60 125.0L825.83 123.9L826.06 122.6L826.29 122.0L826.52 121.4L826.75 120.9L826.98 120.3L827.21 119.7L827.44 119.2L827.67 119.2L827.90 120.0L828.13 121.8L828.36 123.8L828.59 125.7L828.82 127.8L829.05 130.5L829.28 133.4L829.51 136.4L829.74 139.3L829.97 141.9L830.20 144.1L830.43 145.8L830.66 147.9L830.89 150.2L831.12 152.0L831.35 153.4L831.58 153.9L831.81 155.4L832.04 156.5L832.27 157.2L832.50 158.7L832.73 161.1L832.96 162.8L833.19 164.4L833.42 166.4L833.65 170.2L833.88 173.2L834.11 174.4L834.34 176.9L834.57 182.1L834.80 184.2L835.03 183.4L835.26 180.8L835.49 176.8L835.72 172.8L835.95 169.3L836.18 165.7L836.41 162.7L836.64 161.0L836.87 159.5L837.10 158.5L837.33 159.1L837.56 159.3L837.79 159.8L838.02 161.3L838.25 163.2L838.48 165.2L838.71 165.6L838.94 165.3L839.17 168.5L839.40 171.2L839.63 172.7L839.86 174.3L840.09 175.7L840.32 174.3L840.55 171.2L840.78 167.2L841.01 162.5L841.24 159.5L841.47 158.7L841.70 156.9L841.93 154.5L842.16 152.3L842.39 151.3L842.62 151.0L842.85 151.7L843.08 153.4L843.31 155.9L843.54 159.4L843.77 162.9L844.00 166.3L844.23 170.2L844.46 172.0L844.69 176.8L844.92 181.8L845.15 185.6L845.38 184.4L845.61 177.7L845.84 170.4L846.07 166.0L846.30 163.8L846.53 161.3L846.76 161.3L846.99 161.4L847.22 161.5L847.45 162.8L847.68 163.7L847.91 165.9L848.14 168.0L848.37 170.6L848.60 173.0L848.83 174.4L849.06 176.0L849.29 179.2L849.52 181.5L849.75 182.0L849.98 182.0L850.21 182.2L850.44 181.5L850.67 179.4L850.90 177.8L851.13 177.0L851.36 174.8L851.59 172.3L851.82 171.0L852.05 170.1L852.28 169.2L852.51 167.8L852.74 166.9L852.97 167.1L853.20 168.7L853.43 170.7L853.66 172.2L853.89 173.6L854.12 175.2L854.35 177.7L854.58 181.2L854.81 185.4L855.04 188.6L855.27 187.7L855.50 182.2L855.73 179.7L855.96 176.0L856.19 171.8L856.42 168.1L856.65 165.2L856.88 162.9L857.11 161.8L857.34 160.7L857.57 159.4L857.80 159.2L858.03 160.9L858.26 163.3L858.49 166.2L858.72 169.0L858.95 171.1L859.18 174.3L859.41 179.4L859.64 184.3L859.87 188.4L860.10 192.5L860.33 196.6L860.56 198.4L860.79 195.2L861.02 188.3L861.25 187.2L861.48 185.6L861.71 183.7L861.94 181.1L862.17 178.6L862.40 176.3L862.63 173.9L862.86 172.4L863.09 172.9L863.32 173.3L863.55 173.7L863.78 173.6L864.01 173.2L864.24 173.7L864.47 175.2L864.70 176.5L864.93 177.3L865.16 176.9L865.39 177.4L865.62 178.6L865.85 181.4L866.08 184.0L866.31 186.1L866.54 188.2L866.77 190.4L867.00 191.7L867.23 191.5L867.46 194.5L867.69 198.4L867.92 200.3L868.15 199.6L868.38 194.6L868.61 209.1L868.84 225.0L869.07 242.2L869.30 263.3L869.53 271.9L869.76 271.9L869.99 271.9L870.22 271.9L870.45 243.5L870.68 226.0L870.91 231.6L871.14 231.0L871.37 218.7L871.60 209.4L871.83 206.0L872.06 207.4L872.29 217.8L872.52 232.3L872.75 254.7L872.98 260.9L873.21 236.4L873.44 231.3L873.67 262.5L873.90 271.9L874.13 247.9L874.36 231.0L874.59 231.0L874.82 227.4L875.05 216.8L875.28 209.9L875.51 210.0L875.74 213.6L875.97 223.5L876.20 226.8L876.43 217.7L876.66 211.9L876.89 212.3L877.12 213.0L877.35 214.7L877.58 218.1L877.81 225.1L878.04 226.1L878.27 215.8L878.50 210.1L878.73 213.1L878.96 226.1L879.19 258.0L879.42 271.9L879.65 271.9L879.88 271.9L880.11 271.2L880.34 260.2L880.57 229.9L880.80 208.7L881.03 204.8L881.26 209.6L881.49 230.8L881.72 238.7L881.95 221.9L882.18 221.0L882.41 250.3L882.64 265.3L882.87 253.5L883.10 242.4L883.33 232.6L883.56 222.8L883.79 213.0L884.02 210.8L884.25 223.2L884.48 227.0L884.71 215.0L884.94 214.1L885.17 234.0L885.40 241.1L885.63 224.1L885.86 217.7L886.09 231.4L886.32 240.8L886.55 242.3L886.78 246.8L887.01 256.9L887.24 259.5L887.47 248.1L887.70 235.1L887.93 219.2L888.16 211.6L888.39 219.5L888.62 224.2L888.85 222.8L889.08 219.1L889.31 210.8L889.54 208.4L889.77 217.1L890.00 235.1L890.23 270.7L890.46 271.9L890.69 260.4L890.92 240.2L891.15 228.5L891.38 219.7L891.61 216.3L891.84 220.5L892.07 238.8L892.30 250.9L892.53 251.4L892.76 245.2L892.99 226.3L893.22 225.4L893.45 257.8L893.68 270.7L893.91 246.9L894.14 228.9L894.37 221.8L894.60 220.7L894.83 230.9L895.06 240.4L895.29 248.3L895.52 244.6L895.75 218.7L895.98 207.1" fill="none" stroke="#0072BD" stroke-width="1.4" stroke-linejoin="round"/></g>
<path d="M637.0 264.29999999999995H895.5" stroke="#000" stroke-width="0.9"/>
<path d="M894.5 26.4V263.9" stroke="#000" stroke-width="1.7"/>
<g font-family="'Liberation Sans', Arial, Helvetica, sans-serif" font-size="33.4px" fill="#000"><text x="111" y="24.0" text-anchor="end">0</text><text x="111" y="140.2" text-anchor="end"><tspan font-size="38.4px" dy="3.4">−</tspan><tspan dy="-3.4" dx="-1.5">20</tspan></text><text x="111" y="256.5" text-anchor="end"><tspan font-size="38.4px" dy="3.4">−</tspan><tspan dy="-3.4" dx="-1.5">40</tspan></text><text x="111" y="372.8" text-anchor="end"><tspan font-size="38.4px" dy="3.4">−</tspan><tspan dy="-3.4" dx="-1.5">60</tspan></text><text x="111" y="489.0" text-anchor="end"><tspan font-size="38.4px" dy="3.4">−</tspan><tspan dy="-3.4" dx="-1.5">80</tspan></text><text x="141.0" y="516.2" text-anchor="middle">1.3</text><text x="259.0" y="516.2" text-anchor="middle">1.4</text><text x="377.0" y="516.2" text-anchor="middle">1.5</text><text x="495.0" y="516.2" text-anchor="middle">1.6</text><text x="613.0" y="516.2" text-anchor="middle">1.7</text><text x="731.0" y="516.2" text-anchor="middle">1.8</text><text x="849.0" y="516.2" text-anchor="middle">1.9</text><text x="976.4" y="516.2" text-anchor="end">2</text><text x="418.8" y="560" text-anchor="start">Wavelength (µm)</text><text transform="translate(24.8 339) rotate(-90)" text-anchor="start">Intensity (dB)</text><text x="624.4" y="51.8" text-anchor="end"><tspan font-size="38.4px" dy="3.4">−</tspan><tspan dy="-3.4" dx="-1.5">40</tspan></text><text x="624.4" y="155.0" text-anchor="end"><tspan font-size="38.4px" dy="3.4">−</tspan><tspan dy="-3.4" dx="-1.5">60</tspan></text><text x="624.4" y="257.4" text-anchor="end"><tspan font-size="38.4px" dy="3.4">−</tspan><tspan dy="-3.4" dx="-1.5">80</tspan></text><text x="672.0" y="298.6" text-anchor="middle">1.96</text><text x="843.8" y="298.6" text-anchor="middle">1.97</text><text x="162.8" y="107.7">Idler</text><text x="353.4" y="104.8">Pump</text><text x="341.0" y="251">ASE</text><text x="531.8" y="393.5">Raman</text><text x="815.6" y="348">Signal</text></g>
</svg>
</body></html>
